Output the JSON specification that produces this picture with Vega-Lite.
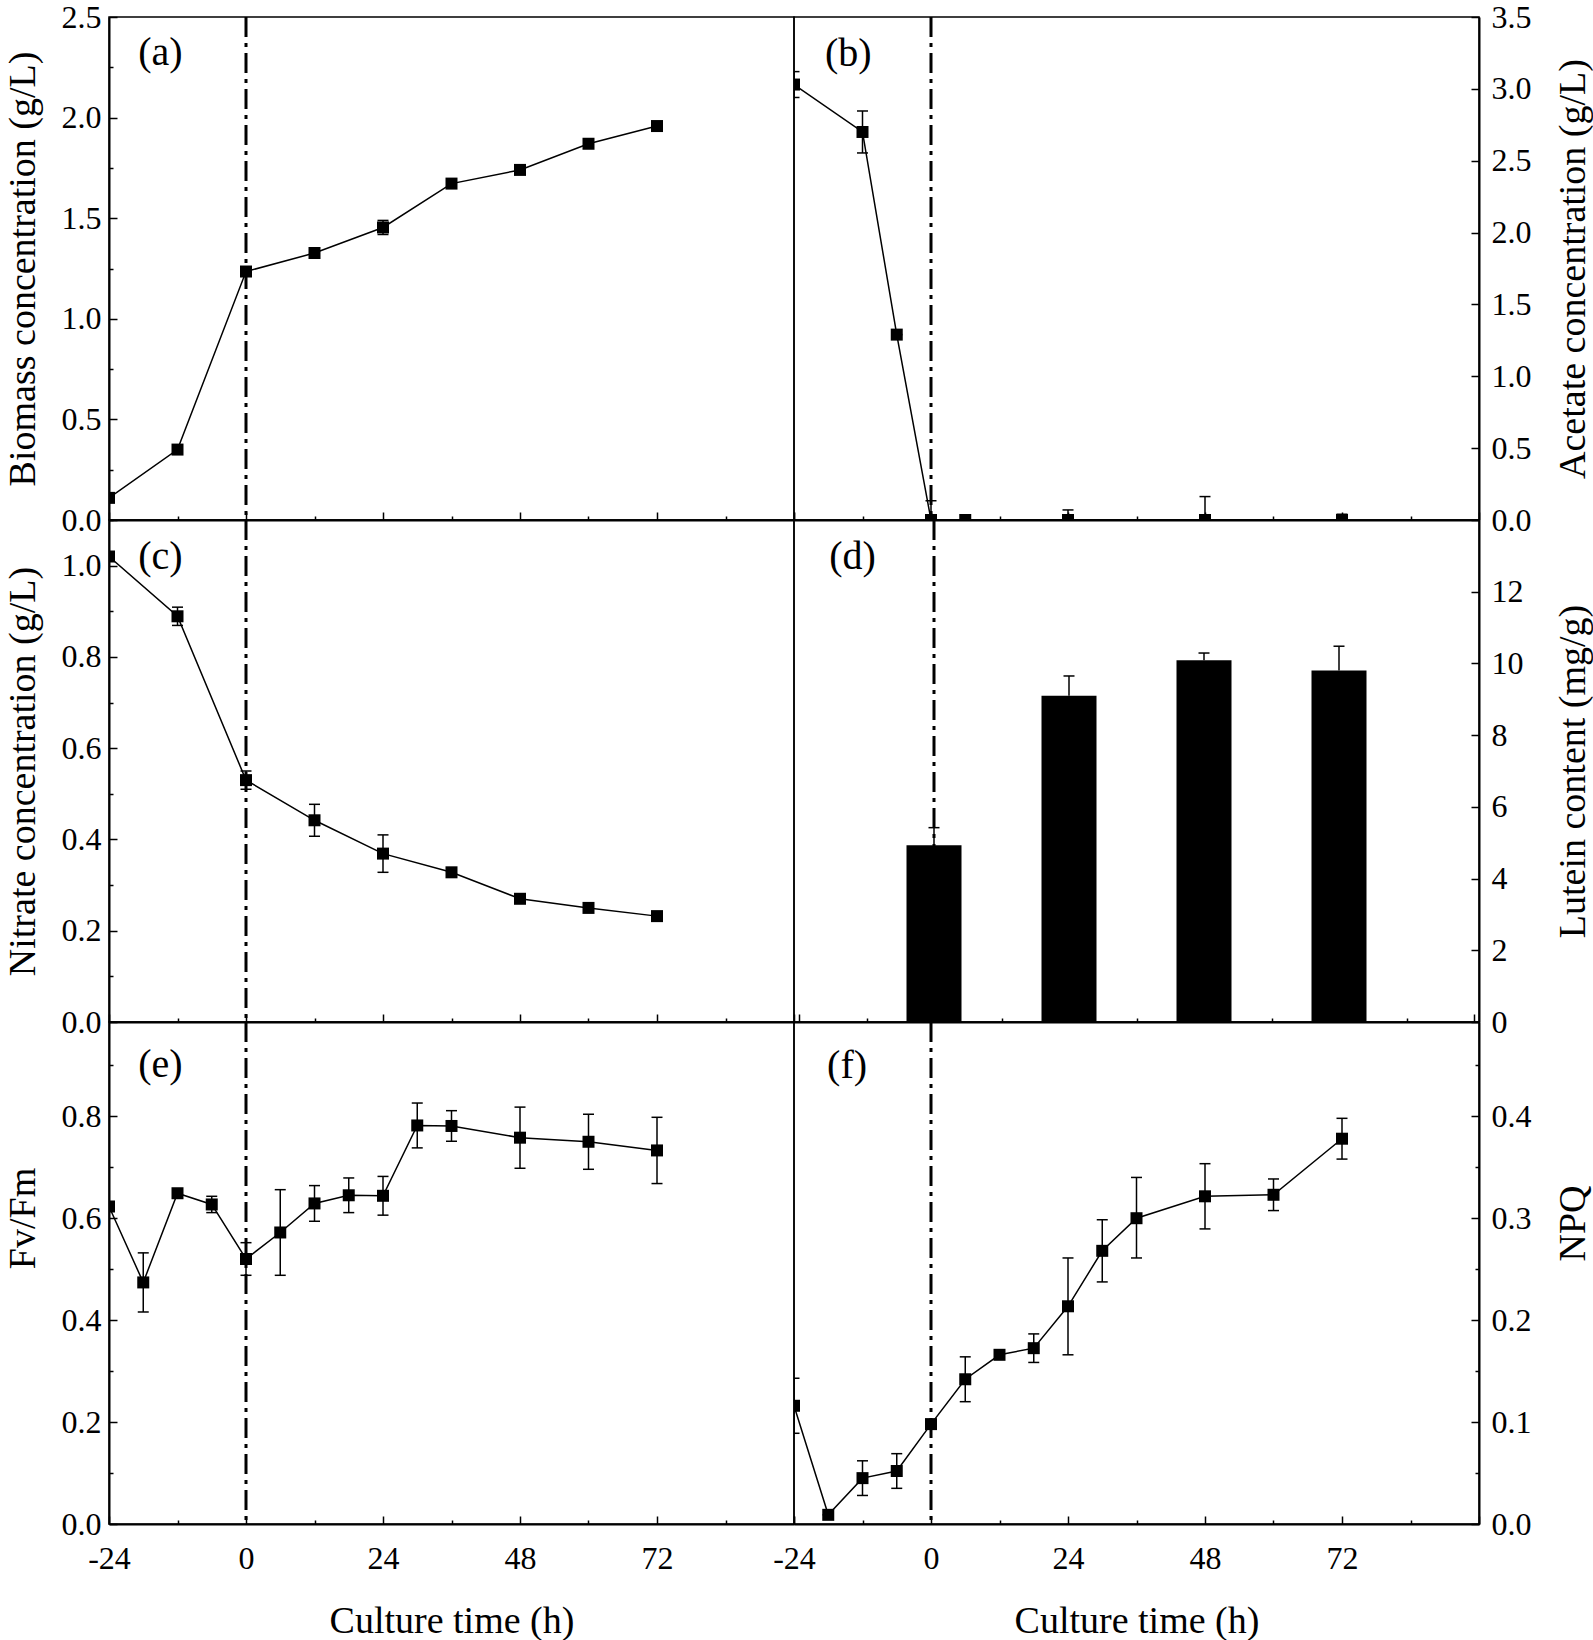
{
  "$schema": "https://vega.github.io/schema/vega-lite/v6.json",
  "background": "white",
  "padding": {"left": 3, "top": 0, "right": 2, "bottom": 0},
  "config": {
    "font": "Liberation Serif",
    "view": {"stroke": "black", "strokeWidth": 1.5},
    "axis": {
      "domainColor": "black", "domainWidth": 2, "tickColor": "black", "tickWidth": 1.5,
      "labelColor": "black", "titleColor": "black",
      "labelFont": "Liberation Serif", "titleFont": "Liberation Serif",
      "labelFontSize": 32, "titleFontSize": 38, "titleFontWeight": "normal",
      "grid": false, "labelOverlap": false, "labelFlush": false
    }
  },
  "datasets": {
    "biomass": [
      {"t": -24, "v": 0.11, "lo": 0.11, "hi": 0.11},
      {"t": -12, "v": 0.35, "lo": 0.35, "hi": 0.35},
      {"t": 0, "v": 1.235, "lo": 1.235, "hi": 1.235},
      {"t": 12, "v": 1.327, "lo": 1.312, "hi": 1.342},
      {"t": 24, "v": 1.454, "lo": 1.419, "hi": 1.489},
      {"t": 36, "v": 1.672, "lo": 1.672, "hi": 1.672},
      {"t": 48, "v": 1.74, "lo": 1.74, "hi": 1.74},
      {"t": 60, "v": 1.87, "lo": 1.87, "hi": 1.87},
      {"t": 72, "v": 1.958, "lo": 1.958, "hi": 1.958}
    ],
    "acetate": [
      {"t": -24, "v": 3.03, "lo": 2.94, "hi": 3.12},
      {"t": -12, "v": 2.7, "lo": 2.554, "hi": 2.846},
      {"t": -6, "v": 1.29, "lo": 1.29, "hi": 1.29},
      {"t": 0, "v": 0, "lo": -0.134, "hi": 0.134},
      {"t": 6, "v": 0, "lo": 0, "hi": 0},
      {"t": 24, "v": 0, "lo": -0.07, "hi": 0.07},
      {"t": 48, "v": 0, "lo": -0.163, "hi": 0.163},
      {"t": 72, "v": 0, "lo": -0.04, "hi": 0.04}
    ],
    "nitrate": [
      {"t": -24, "v": 1.02, "lo": 1.01, "hi": 1.03},
      {"t": -12, "v": 0.889, "lo": 0.869, "hi": 0.909},
      {"t": 0, "v": 0.53, "lo": 0.51, "hi": 0.55},
      {"t": 12, "v": 0.442, "lo": 0.407, "hi": 0.477},
      {"t": 24, "v": 0.369, "lo": 0.328, "hi": 0.41},
      {"t": 36, "v": 0.328, "lo": 0.328, "hi": 0.328},
      {"t": 48, "v": 0.27, "lo": 0.27, "hi": 0.27},
      {"t": 60, "v": 0.25, "lo": 0.25, "hi": 0.25},
      {"t": 72, "v": 0.232, "lo": 0.232, "hi": 0.232}
    ],
    "lutein": [
      {"t": 0, "v": 4.93, "hi": 5.42},
      {"t": 24, "v": 9.1, "hi": 9.65},
      {"t": 48, "v": 10.09, "hi": 10.29},
      {"t": 72, "v": 9.8, "hi": 10.48}
    ],
    "fvfm": [
      {"t": -24, "v": 0.623, "lo": 0.623, "hi": 0.623},
      {"t": -18, "v": 0.474, "lo": 0.416, "hi": 0.532},
      {"t": -12, "v": 0.649, "lo": 0.649, "hi": 0.649},
      {"t": -6, "v": 0.627, "lo": 0.611, "hi": 0.643},
      {"t": 0, "v": 0.52, "lo": 0.488, "hi": 0.552},
      {"t": 6, "v": 0.572, "lo": 0.488, "hi": 0.656},
      {"t": 12, "v": 0.629, "lo": 0.594, "hi": 0.664},
      {"t": 18, "v": 0.645, "lo": 0.611, "hi": 0.679},
      {"t": 24, "v": 0.644, "lo": 0.606, "hi": 0.682},
      {"t": 30, "v": 0.782, "lo": 0.738, "hi": 0.826},
      {"t": 36, "v": 0.781, "lo": 0.751, "hi": 0.811},
      {"t": 48, "v": 0.758, "lo": 0.698, "hi": 0.818},
      {"t": 60, "v": 0.75, "lo": 0.696, "hi": 0.804},
      {"t": 72, "v": 0.733, "lo": 0.668, "hi": 0.798}
    ],
    "npq": [
      {"t": -24, "v": 0.116, "lo": 0.089, "hi": 0.143},
      {"t": -18, "v": 0.009, "lo": 0.009, "hi": 0.009},
      {"t": -12, "v": 0.045, "lo": 0.028, "hi": 0.062},
      {"t": -6, "v": 0.052, "lo": 0.035, "hi": 0.069},
      {"t": 0, "v": 0.098, "lo": 0.098, "hi": 0.098},
      {"t": 6, "v": 0.142, "lo": 0.12, "hi": 0.164},
      {"t": 12, "v": 0.166, "lo": 0.166, "hi": 0.166},
      {"t": 18, "v": 0.1725, "lo": 0.1585, "hi": 0.1865},
      {"t": 24, "v": 0.2136, "lo": 0.166, "hi": 0.261},
      {"t": 30, "v": 0.268, "lo": 0.2375, "hi": 0.2985},
      {"t": 36, "v": 0.3, "lo": 0.261, "hi": 0.34},
      {"t": 48, "v": 0.3215, "lo": 0.2895, "hi": 0.3535},
      {"t": 60, "v": 0.323, "lo": 0.3075, "hi": 0.3385},
      {"t": 72, "v": 0.378, "lo": 0.358, "hi": 0.398}
    ]
  },
  "concat": [
    {
      "width": 685, "height": 503,
      "data": {"name": "biomass"},
      "encoding": {"x": {"field": "t", "type": "quantitative", "scale": {"domain": [-24, 96], "nice": false, "zero": false},
        "axis": {"orient": "bottom", "values": [-24,-12,0,12,24,36,48,60,72,84,96], "labels": false, "title": null, "tickSize": -8,
          "encoding": {"ticks": {"y2": {"condition": {"test": "datum.value % 24 === 0", "value": -8}, "value": -4}}}}}},
      "layer": [
        {"transform": [{"filter": "datum.t === 0"}], "mark": {"type": "rule", "color": "black", "strokeWidth": 3, "strokeDash": [20, 6, 4, 6]}, "encoding": {"x": {"field": "t", "type": "quantitative"}}},
        {"mark": {"type": "line", "color": "black", "strokeWidth": 1.5, "clip": true},
         "encoding": {"y": {"field": "v", "type": "quantitative", "scale": {"domain": [0, 2.5], "nice": false, "zero": false},
           "axis": {"orient": "left", "title": "Biomass concentration (g/L)", "values": [0,0.25,0.5,0.75,1,1.25,1.5,1.75,2,2.25,2.5],
             "labelExpr": "round(datum.value*100) % 50 === 0 ? format(datum.value, '.1f') : ''",
             "tickSize": -8, "labelPadding": 16, "minExtent": 48, "maxExtent": 48, "titlePadding": 19,
             "encoding": {"ticks": {"x2": {"condition": {"test": "round(datum.value*100) % 50 === 0", "value": 8}, "value": 4}}}}}}},
        {"mark": {"type": "rule", "color": "black", "strokeWidth": 1.5, "clip": true}, "encoding": {"y": {"field": "lo", "type": "quantitative"}, "y2": {"field": "hi"}}},
        {"mark": {"type": "tick", "orient": "horizontal", "color": "black", "size": 11, "thickness": 1.5, "opacity": 1, "clip": true}, "encoding": {"y": {"field": "lo", "type": "quantitative"}}},
        {"mark": {"type": "tick", "orient": "horizontal", "color": "black", "size": 11, "thickness": 1.5, "opacity": 1, "clip": true}, "encoding": {"y": {"field": "hi", "type": "quantitative"}}},
        {"mark": {"type": "point", "shape": "square", "filled": true, "color": "black", "size": 144, "opacity": 1, "clip": true}, "encoding": {"y": {"field": "v", "type": "quantitative"}}},
        {"transform": [{"filter": "datum.t === 0"}], "mark": {"type": "text", "font": "Liberation Serif", "fontSize": 40, "color": "black", "align": "center", "baseline": "middle"},
         "encoding": {"x": {"datum": -15}, "y": {"datum": 2.32}, "text": {"value": "(a)"}}}
      ]
    },
    {
      "width": 685, "height": 503,
      "data": {"name": "acetate"},
      "encoding": {"x": {"field": "t", "type": "quantitative", "scale": {"domain": [-24, 96], "nice": false, "zero": false},
        "axis": {"orient": "bottom", "values": [-24,-12,0,12,24,36,48,60,72,84,96], "labels": false, "title": null, "tickSize": -8,
          "encoding": {"ticks": {"y2": {"condition": {"test": "datum.value % 24 === 0", "value": -8}, "value": -4}}}}}},
      "layer": [
        {"transform": [{"filter": "datum.t === 0"}], "mark": {"type": "rule", "color": "black", "strokeWidth": 3, "strokeDash": [20, 6, 4, 6]}, "encoding": {"x": {"field": "t", "type": "quantitative"}}},
        {"mark": {"type": "line", "color": "black", "strokeWidth": 1.5, "clip": true},
         "encoding": {"y": {"field": "v", "type": "quantitative", "scale": {"domain": [0, 3.5], "nice": false, "zero": false},
           "axis": {"orient": "right", "title": "Acetate concentration (g/L)", "titleAngle": 270, "titleBaseline": "top",
             "values": [0,0.25,0.5,0.75,1,1.25,1.5,1.75,2,2.25,2.5,2.75,3,3.25,3.5],
             "labelExpr": "round(datum.value*100) % 50 === 0 ? format(datum.value, '.1f') : ''",
             "tickSize": -8, "labelPadding": 20, "minExtent": 52, "maxExtent": 52, "titlePadding": 23,
             "encoding": {"ticks": {"x2": {"condition": {"test": "round(datum.value*100) % 50 === 0", "value": -8}, "value": -4}}}}}}},
        {"mark": {"type": "rule", "color": "black", "strokeWidth": 1.5, "clip": true}, "encoding": {"y": {"field": "lo", "type": "quantitative"}, "y2": {"field": "hi"}}},
        {"mark": {"type": "tick", "orient": "horizontal", "color": "black", "size": 11, "thickness": 1.5, "opacity": 1, "clip": true}, "encoding": {"y": {"field": "lo", "type": "quantitative"}}},
        {"mark": {"type": "tick", "orient": "horizontal", "color": "black", "size": 11, "thickness": 1.5, "opacity": 1, "clip": true}, "encoding": {"y": {"field": "hi", "type": "quantitative"}}},
        {"mark": {"type": "point", "shape": "square", "filled": true, "color": "black", "size": 144, "opacity": 1, "clip": true}, "encoding": {"y": {"field": "v", "type": "quantitative"}}},
        {"transform": [{"filter": "datum.t === 0"}], "mark": {"type": "text", "font": "Liberation Serif", "fontSize": 40, "color": "black", "align": "center", "baseline": "middle"},
         "encoding": {"x": {"datum": -14.5}, "y": {"datum": 3.245}, "text": {"value": "(b)"}}}
      ]
    },
    {
      "width": 685, "height": 502,
      "data": {"name": "nitrate"},
      "encoding": {"x": {"field": "t", "type": "quantitative", "scale": {"domain": [-24, 96], "nice": false, "zero": false},
        "axis": {"orient": "bottom", "values": [-24,-12,0,12,24,36,48,60,72,84,96], "labels": false, "title": null, "tickSize": -8,
          "encoding": {"ticks": {"y2": {"condition": {"test": "datum.value % 24 === 0", "value": -8}, "value": -4}}}}}},
      "layer": [
        {"transform": [{"filter": "datum.t === 0"}], "mark": {"type": "rule", "color": "black", "strokeWidth": 3, "strokeDash": [20, 6, 4, 6]}, "encoding": {"x": {"field": "t", "type": "quantitative"}}},
        {"mark": {"type": "line", "color": "black", "strokeWidth": 1.5, "clip": true},
         "encoding": {"y": {"field": "v", "type": "quantitative", "scale": {"domain": [0, 1.1], "nice": false, "zero": false},
           "axis": {"orient": "left", "title": "Nitrate concentration (g/L)", "values": [0,0.1,0.2,0.3,0.4,0.5,0.6,0.7,0.8,0.9,1,1.1],
             "labelExpr": "round(datum.value*10) % 2 === 0 ? format(datum.value, '.1f') : ''",
             "tickSize": -8, "labelPadding": 16, "minExtent": 48, "maxExtent": 48, "titlePadding": 19,
             "encoding": {"ticks": {"x2": {"condition": {"test": "round(datum.value*10) % 2 === 0", "value": 8}, "value": 4}}}}}}},
        {"mark": {"type": "rule", "color": "black", "strokeWidth": 1.5, "clip": true}, "encoding": {"y": {"field": "lo", "type": "quantitative"}, "y2": {"field": "hi"}}},
        {"mark": {"type": "tick", "orient": "horizontal", "color": "black", "size": 11, "thickness": 1.5, "opacity": 1, "clip": true}, "encoding": {"y": {"field": "lo", "type": "quantitative"}}},
        {"mark": {"type": "tick", "orient": "horizontal", "color": "black", "size": 11, "thickness": 1.5, "opacity": 1, "clip": true}, "encoding": {"y": {"field": "hi", "type": "quantitative"}}},
        {"mark": {"type": "point", "shape": "square", "filled": true, "color": "black", "size": 144, "opacity": 1, "clip": true}, "encoding": {"y": {"field": "v", "type": "quantitative"}}},
        {"transform": [{"filter": "datum.t === 0"}], "mark": {"type": "text", "font": "Liberation Serif", "fontSize": 40, "color": "black", "align": "center", "baseline": "middle"},
         "encoding": {"x": {"datum": -15}, "y": {"datum": 1.019}, "text": {"value": "(c)"}}}
      ]
    },
    {
      "width": 685, "height": 502,
      "data": {"name": "lutein"},
      "encoding": {"x": {"field": "t", "type": "quantitative", "scale": {"domain": [-24, 96], "nice": false, "zero": false},
        "axis": {"orient": "bottom", "values": [-24,-12,0,12,24,36,48,60,72,84,96], "labels": false, "title": null, "tickSize": -8,
          "encoding": {"ticks": {"y2": {"condition": {"test": "datum.value % 24 === 0", "value": -8}, "value": -4}}}}}},
      "layer": [
        {"transform": [{"filter": "datum.t === 0"}], "mark": {"type": "rule", "color": "black", "strokeWidth": 3, "strokeDash": [20, 6, 4, 6]}, "encoding": {"x": {"field": "t", "type": "quantitative"}}},
        {"mark": {"type": "bar", "color": "black", "size": 55},
         "encoding": {"y": {"field": "v", "type": "quantitative", "scale": {"domain": [0, 14], "nice": false, "zero": true},
           "axis": {"orient": "right", "title": "Lutein content (mg/g)", "titleAngle": 270, "titleBaseline": "top",
             "values": [0,1,2,3,4,5,6,7,8,9,10,11,12,13],
             "labelExpr": "datum.value % 2 === 0 ? ('' + datum.value) : ''",
             "tickSize": -8, "labelPadding": 20, "minExtent": 52, "maxExtent": 52, "titlePadding": 23,
             "encoding": {"ticks": {"x2": {"condition": {"test": "datum.value % 2 === 0", "value": -8}, "value": -4}}}}}}},
        {"mark": {"type": "rule", "color": "black", "strokeWidth": 1.5}, "encoding": {"y": {"field": "v", "type": "quantitative"}, "y2": {"field": "hi"}}},
        {"mark": {"type": "tick", "orient": "horizontal", "color": "black", "size": 11, "thickness": 1.5, "opacity": 1}, "encoding": {"y": {"field": "hi", "type": "quantitative"}}},
        {"transform": [{"filter": "datum.t === 0"}], "mark": {"type": "text", "font": "Liberation Serif", "fontSize": 40, "color": "black", "align": "center", "baseline": "middle"},
         "encoding": {"x": {"datum": -14.5}, "y": {"datum": 12.97}, "text": {"value": "(d)"}}}
      ]
    },
    {
      "width": 685, "height": 502,
      "data": {"name": "fvfm"},
      "encoding": {"x": {"field": "t", "type": "quantitative", "scale": {"domain": [-24, 96], "nice": false, "zero": false},
        "axis": {"orient": "bottom", "values": [-24,-12,0,12,24,36,48,60,72,84,96],
          "labelExpr": "(datum.value % 24 === 0 && datum.value < 96) ? ('' + datum.value) : ''",
          "title": "Culture time (h)", "tickSize": -8, "labelPadding": 27, "minExtent": 50, "maxExtent": 50, "titlePadding": 28,
          "encoding": {"ticks": {"y2": {"condition": {"test": "datum.value % 24 === 0", "value": -8}, "value": -4}}}}}},
      "layer": [
        {"transform": [{"filter": "datum.t === 0"}], "mark": {"type": "rule", "color": "black", "strokeWidth": 3, "strokeDash": [20, 6, 4, 6]}, "encoding": {"x": {"field": "t", "type": "quantitative"}}},
        {"mark": {"type": "line", "color": "black", "strokeWidth": 1.5, "clip": true},
         "encoding": {"y": {"field": "v", "type": "quantitative", "scale": {"domain": [0, 0.985], "nice": false, "zero": false},
           "axis": {"orient": "left", "title": "Fv/Fm", "titleY": 196, "values": [0,0.1,0.2,0.3,0.4,0.5,0.6,0.7,0.8,0.9],
             "labelExpr": "round(datum.value*10) % 2 === 0 ? format(datum.value, '.1f') : ''",
             "tickSize": -8, "labelPadding": 16, "minExtent": 48, "maxExtent": 48, "titlePadding": 19,
             "encoding": {"ticks": {"x2": {"condition": {"test": "round(datum.value*10) % 2 === 0", "value": 8}, "value": 4}}}}}}},
        {"mark": {"type": "rule", "color": "black", "strokeWidth": 1.5, "clip": true}, "encoding": {"y": {"field": "lo", "type": "quantitative"}, "y2": {"field": "hi"}}},
        {"mark": {"type": "tick", "orient": "horizontal", "color": "black", "size": 11, "thickness": 1.5, "opacity": 1, "clip": true}, "encoding": {"y": {"field": "lo", "type": "quantitative"}}},
        {"mark": {"type": "tick", "orient": "horizontal", "color": "black", "size": 11, "thickness": 1.5, "opacity": 1, "clip": true}, "encoding": {"y": {"field": "hi", "type": "quantitative"}}},
        {"mark": {"type": "point", "shape": "square", "filled": true, "color": "black", "size": 144, "opacity": 1, "clip": true}, "encoding": {"y": {"field": "v", "type": "quantitative"}}},
        {"transform": [{"filter": "datum.t === 0"}], "mark": {"type": "text", "font": "Liberation Serif", "fontSize": 40, "color": "black", "align": "center", "baseline": "middle"},
         "encoding": {"x": {"datum": -15}, "y": {"datum": 0.901}, "text": {"value": "(e)"}}}
      ]
    },
    {
      "width": 685, "height": 502,
      "data": {"name": "npq"},
      "encoding": {"x": {"field": "t", "type": "quantitative", "scale": {"domain": [-24, 96], "nice": false, "zero": false},
        "axis": {"orient": "bottom", "values": [-24,-12,0,12,24,36,48,60,72,84,96],
          "labelExpr": "(datum.value % 24 === 0 && datum.value < 96) ? ('' + datum.value) : ''",
          "title": "Culture time (h)", "tickSize": -8, "labelPadding": 27, "minExtent": 50, "maxExtent": 50, "titlePadding": 28,
          "encoding": {"ticks": {"y2": {"condition": {"test": "datum.value % 24 === 0", "value": -8}, "value": -4}}}}}},
      "layer": [
        {"transform": [{"filter": "datum.t === 0"}], "mark": {"type": "rule", "color": "black", "strokeWidth": 3, "strokeDash": [20, 6, 4, 6]}, "encoding": {"x": {"field": "t", "type": "quantitative"}}},
        {"mark": {"type": "line", "color": "black", "strokeWidth": 1.5, "clip": true},
         "encoding": {"y": {"field": "v", "type": "quantitative", "scale": {"domain": [0, 0.4925], "nice": false, "zero": false},
           "axis": {"orient": "right", "title": "NPQ", "titleAngle": 270, "titleBaseline": "top", "titleY": 201,
             "values": [0,0.05,0.1,0.15,0.2,0.25,0.3,0.35,0.4,0.45],
             "labelExpr": "round(datum.value*100) % 10 === 0 ? format(datum.value, '.1f') : ''",
             "tickSize": -8, "labelPadding": 20, "minExtent": 52, "maxExtent": 52, "titlePadding": 23,
             "encoding": {"ticks": {"x2": {"condition": {"test": "round(datum.value*100) % 10 === 0", "value": -8}, "value": -4}}}}}}},
        {"mark": {"type": "rule", "color": "black", "strokeWidth": 1.5, "clip": true}, "encoding": {"y": {"field": "lo", "type": "quantitative"}, "y2": {"field": "hi"}}},
        {"mark": {"type": "tick", "orient": "horizontal", "color": "black", "size": 11, "thickness": 1.5, "opacity": 1, "clip": true}, "encoding": {"y": {"field": "lo", "type": "quantitative"}}},
        {"mark": {"type": "tick", "orient": "horizontal", "color": "black", "size": 11, "thickness": 1.5, "opacity": 1, "clip": true}, "encoding": {"y": {"field": "hi", "type": "quantitative"}}},
        {"mark": {"type": "point", "shape": "square", "filled": true, "color": "black", "size": 144, "opacity": 1, "clip": true}, "encoding": {"y": {"field": "v", "type": "quantitative"}}},
        {"transform": [{"filter": "datum.t === 0"}], "mark": {"type": "text", "font": "Liberation Serif", "fontSize": 40, "color": "black", "align": "center", "baseline": "middle"},
         "encoding": {"x": {"datum": -14.7}, "y": {"datum": 0.449}, "text": {"value": "(f)"}}}
      ]
    }
  ],
  "columns": 2,
  "spacing": 0,
  "bounds": "flush",
  "align": "each"
}
